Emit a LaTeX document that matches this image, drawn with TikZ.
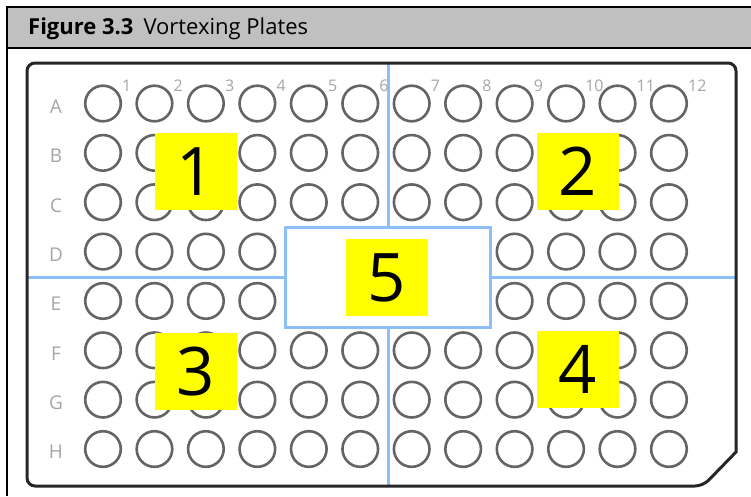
\documentclass[tikz,border=0pt]{standalone}
\usepackage{fontspec}
\setmainfont{Open Sans}
\definecolor{headgray}{RGB}{192,192,192}
\definecolor{wellgray}{RGB}{100,100,100}
\definecolor{labelgray}{RGB}{165,165,165}
\definecolor{splitblue}{RGB}{140,190,250}
\definecolor{markyellow}{RGB}{255,255,0}
\begin{document}
\begin{tikzpicture}[x=1pt,y=-1pt,
  well/.style={draw=wellgray,line width=2.6pt},
  split/.style={draw=splitblue,line width=3pt},
  zone/.style={fill=markyellow,minimum width=82pt,minimum height=77pt,inner sep=0pt,
    font=\fontsize{67}{67}\selectfont},
  rowlab/.style={text=labelgray,inner sep=0pt,font=\fontsize{19}{19}\selectfont},
  collab/.style={text=labelgray,inner sep=0pt,anchor=west,font=\fontsize{16}{16}\selectfont}]
  \useasboundingbox (0,0) rectangle (751,496);
  % caption bar and frame
  \fill[headgray] (7,7) rectangle (751,48);
  \draw[line width=1.3pt] (751,7) -- (7,7) -- (7,496);
  \draw[line width=1.3pt] (7,48) -- (751,48);
  \node[anchor=base west,inner sep=0pt,font=\fontsize{22}{22}\selectfont] (title) at (28,34)
    {\textbf{Figure 3.3}\hspace{10pt}Vortexing Plates};
  % wells
  \foreach \c in {1,...,12}
    \foreach \r in {1,...,8}
      \draw[well] ({103+(\c-1)*51.45},{103.5+(\r-1)*49.36}) circle (17.8pt);
  \foreach \c in {1,...,12}
    \node[collab] (col\c) at ({103+(\c-1)*51.45+19},86) {\c};
  \foreach \l [count=\r] in {A,...,H}
    \node[rowlab] (row\l) at (56,{106.5+(\r-1)*49.36}) {\l};
  % quadrant split
  \draw[split] (388,63) -- (388,486);
  \draw[split] (27,277) -- (736,277);
  \node[draw=splitblue,line width=3pt,fill=white,minimum width=205pt,minimum height=100pt,
    inner sep=0pt] (mid) at (387.5,277) {};
  \node[zone] (z1) at (196,171.5) {1};
  \node[zone] (z2) at (577.5,171.5) {2};
  \node[zone] (z3) at (196,371.5) {3};
  \node[zone] (z4) at (578,369.5) {4};
  \node[zone] (z5) at (387,277.5) {5};
  % plate outline
  \draw[line width=3pt,draw=black!85] (719.5,469) -- (736,452) [rounded corners=8pt] -- (736,63)
    -- (27,63) -- (27,486) -- (703,486) [sharp corners] -- (719.5,469);
\end{tikzpicture}
\end{document}
